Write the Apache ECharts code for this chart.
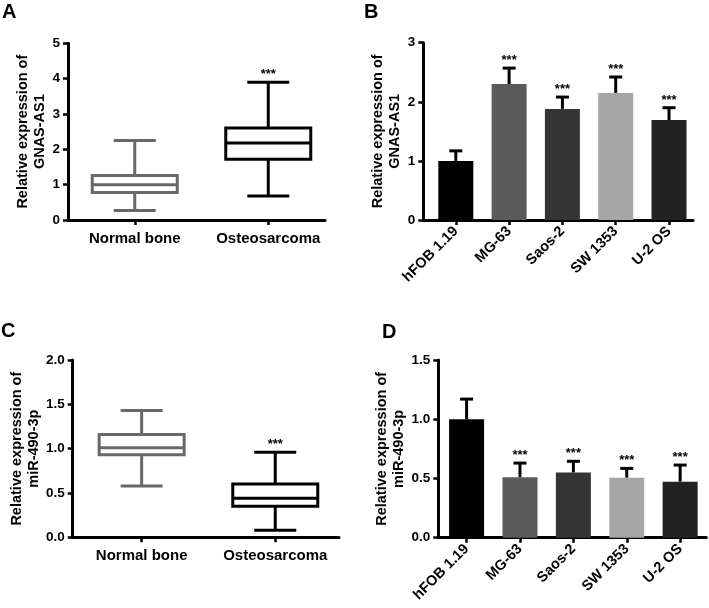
<!DOCTYPE html>
<html>
<head>
<meta charset="utf-8">
<script src="https://cdn.jsdelivr.net/npm/echarts@6/dist/echarts.min.js"></script>
<style>
  html, body { margin: 0; padding: 0; background: #fff; }
  #main { width: 709px; height: 608px; }
</style>
</head>
<body>
<div id="main"></div>
<script>
// box plot groups: [min, q1, median, q3, max]
const boxCats = ['Normal bone', 'Osteosarcoma']
const gnasBox = [[0.27, 0.78, 1.0, 1.26, 2.25], [0.68, 1.72, 2.18, 2.6, 3.9]]
const mirBox = [[0.58, 0.93, 1.01, 1.16, 1.43], [0.08, 0.35, 0.44, 0.60, 0.96]]
const boxColors = ['#686868', '#000000']
const boxStars = ['', '***']

// cell lines, mean + sd
const cellLines = ['hFOB 1.19', 'MG-63', 'Saos-2', 'SW 1353', 'U-2 OS']
const gnasMean = [1.0, 2.30, 1.88, 2.15, 1.69]
const gnasSd = [0.17, 0.27, 0.20, 0.27, 0.21]
const mirMean = [1.0, 0.51, 0.55, 0.505, 0.473]
const mirSd = [0.17, 0.12, 0.095, 0.08, 0.14]
const barColors = ['#000000', '#5a5a5a', '#353535', '#a6a6a6', '#222222']
const barStars = ['', '***', '***', '***', '***']

const FONT = 'Liberation Sans, Arial, sans-serif'

var chartDom = document.getElementById('main')
var myChart = echarts.init(chartDom)

function renderBox(params, api) {
    var i = api.value(0)
    var p = function(k){ return api.coord([i, api.value(k)]) }
    var pMin = p(1), pQ1 = p(2), pMed = p(3), pQ3 = p(4), pMax = p(5)
    var x = pMin[0]
    var hw = 42.5, cw = 21
    var st = { stroke: boxColors[i], lineWidth: 3, fill: null }
    return {
        type: 'group',
        children: [
            { type: 'line', shape: { x1: x, y1: pQ3[1], x2: x, y2: pMax[1] }, style: st },
            { type: 'line', shape: { x1: x - cw, y1: pMax[1], x2: x + cw, y2: pMax[1] }, style: st },
            { type: 'line', shape: { x1: x, y1: pQ1[1], x2: x, y2: pMin[1] }, style: st },
            { type: 'line', shape: { x1: x - cw, y1: pMin[1], x2: x + cw, y2: pMin[1] }, style: st },
            { type: 'rect', shape: { x: x - hw, y: pQ3[1], width: 2 * hw, height: pQ1[1] - pQ3[1] },
              style: { stroke: boxColors[i], lineWidth: 3, fill: '#fff' } },
            { type: 'line', shape: { x1: x - hw, y1: pMed[1], x2: x + hw, y2: pMed[1] }, style: st },
            { type: 'text', style: { text: boxStars[i], x: x, y: pMax[1] - 1, align: 'center',
              verticalAlign: 'bottom', font: 'bold 13px ' + FONT, fill: '#000' } }
        ]
    }
}

function renderErr(params, api) {
    var i = api.value(0)
    var pBase = api.coord([i, api.value(1)])
    var pTop = api.coord([i, api.value(2)])
    var x = pBase[0]
    var st = { stroke: '#000', lineWidth: 3 }
    return {
        type: 'group',
        children: [
            { type: 'line', shape: { x1: x, y1: pBase[1], x2: x, y2: pTop[1] }, style: st },
            { type: 'line', shape: { x1: x - 6.5, y1: pTop[1], x2: x + 6.5, y2: pTop[1] }, style: st },
            { type: 'text', style: { text: barStars[i], x: x, y: pTop[1] - 1, align: 'center',
              verticalAlign: 'bottom', font: 'bold 13px ' + FONT, fill: '#000' } }
        ]
    }
}

function xAxisOf(grid, cats, min, max, rotate) {
    var idx = cats.map(function(c, i){ return i })
    return {
        gridIndex: grid, type: 'value', min: min, max: max,
        splitLine: { show: false },
        axisLine: { onZero: false, lineStyle: { color: '#000', width: 3 } },
        axisTick: { customValues: idx, length: 5, lineStyle: { color: '#000', width: 2.5 } },
        axisLabel: {
            customValues: idx, rotate: rotate, margin: rotate ? 9 : 11,
            formatter: function(v){ return cats[Math.round(v)] },
            color: '#000', fontFamily: FONT, fontWeight: 'bold', fontSize: rotate ? 14.5 : 15
        }
    }
}

function yAxisOf(grid, max, interval, digits, name, gap) {
    return {
        gridIndex: grid, type: 'value', min: 0, max: max, interval: interval,
        name: name, nameLocation: 'middle', nameGap: gap,
        nameTextStyle: { color: '#000', fontFamily: FONT, fontWeight: 'bold', fontSize: 14.5, lineHeight: 17 },
        splitLine: { show: false },
        axisLine: { show: true, onZero: false, lineStyle: { color: '#000', width: 3 } },
        axisTick: { show: true, length: 5, lineStyle: { color: '#000', width: 2.5 } },
        axisLabel: {
            margin: 8, color: '#000', fontFamily: FONT, fontWeight: 'bold', fontSize: 13.5,
            formatter: function(v){ return v.toFixed(digits) }
        }
    }
}

function boxData(arr) {
    return arr.map(function(b, i){ return [i].concat(b) })
}
function barData(mean) {
    return mean.map(function(v, i){ return [i, v] })
}
function errData(mean, sd) {
    return mean.map(function(v, i){ return [i, v, v + sd[i]] })
}

var letter = function(t, l, tp) {
    return { text: t, left: l, top: tp, padding: 0,
        textStyle: { fontFamily: FONT, fontWeight: 'bold', fontSize: 20, color: '#000' } }
}

var option = {
    animation: false,
    title: [letter('A', 2, 2), letter('B', 364, 2), letter('C', 1, 321), letter('D', 382, 322)],
    grid: [
        { left: 68, top: 43.3, width: 257, height: 176.7 },
        { left: 423.3, top: 42.7, width: 269.7, height: 177.3 },
        { left: 72.7, top: 360, width: 266.3, height: 177.3 },
        { left: 438.3, top: 360, width: 268, height: 177.7 }
    ],
    xAxis: [
        xAxisOf(0, boxCats, -0.5, 1.425, 0),
        xAxisOf(1, cellLines, -0.61, 4.45, 45),
        xAxisOf(2, boxCats, -0.516, 1.477, 0),
        xAxisOf(3, cellLines, -0.53, 4.49, 45)
    ],
    yAxis: [
        yAxisOf(0, 5, 1, 0, 'Relative expression of\nGNAS-AS1', 19),
        yAxisOf(1, 3, 1, 0, 'Relative expression of\nGNAS-AS1', 14),
        yAxisOf(2, 2, 0.5, 1, 'Relative expression of\nmiR-490-3p', 20),
        yAxisOf(3, 1.5, 0.5, 1, 'Relative expression of\nmiR-490-3p', 21)
    ],
    series: [
        { type: 'custom', xAxisIndex: 0, yAxisIndex: 0, renderItem: renderBox,
          encode: { x: 0, y: [1, 2, 3, 4, 5] }, data: boxData(gnasBox) },
        { type: 'custom', xAxisIndex: 2, yAxisIndex: 2, renderItem: renderBox,
          encode: { x: 0, y: [1, 2, 3, 4, 5] }, data: boxData(mirBox) },
        { type: 'bar', xAxisIndex: 1, yAxisIndex: 1, barWidth: 35, data: barData(gnasMean),
          itemStyle: { color: function(p){ return barColors[p.dataIndex] } } },
        { type: 'custom', xAxisIndex: 1, yAxisIndex: 1, renderItem: renderErr, z: 1,
          encode: { x: 0, y: [1, 2] }, data: errData(gnasMean, gnasSd) },
        { type: 'bar', xAxisIndex: 3, yAxisIndex: 3, barWidth: 35, data: barData(mirMean),
          itemStyle: { color: function(p){ return barColors[p.dataIndex] } } },
        { type: 'custom', xAxisIndex: 3, yAxisIndex: 3, renderItem: renderErr, z: 1,
          encode: { x: 0, y: [1, 2] }, data: errData(mirMean, mirSd) }
    ]
}
myChart.setOption(option)
</script>
</body>
</html>
